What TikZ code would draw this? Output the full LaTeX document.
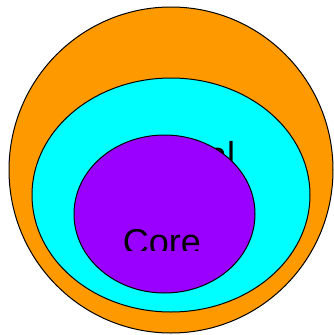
\documentclass[tikz,border=0pt]{standalone}
\usepackage{fontspec}
\setmainfont{Liberation Sans}
\usetikzlibrary{positioning}
\definecolor{layerorange}{HTML}{FF9900}
\definecolor{layercyan}{HTML}{00FFFF}
\definecolor{layerpurple}{HTML}{9900FF}
\tikzset{every picture/.style={line width=1pt}}
\tikzset{
    layer/.style={draw=black},
    layertext/.style={inner sep=0pt, anchor=base, font=\fontsize{36}{40}\selectfont}
}
\begin{document}
\begin{tikzpicture}[x=1pt, y=-1pt]
    \useasboundingbox (0,0) rectangle (334,335);

    % --- outer layer ---
    \draw[layer, fill=layerorange] (171,170) ellipse (162 and 163);

    % --- internal layer ---
    \draw[layer, fill=layercyan] (171,195) ellipse (139 and 117);
    \begin{scope}
        \clip (200,0) rectangle (334,335);
        \node[layertext] (internal) at (175,167) {Internal};
    \end{scope}

    % --- core ---
    \draw[layer, fill=layerpurple] (164.5,214) ellipse (90.5 and 79);
    \begin{scope}
        \clip (0,0) rectangle (334,250);
        \node[layertext] (core) at (162,254) {Core};
    \end{scope}

\end{tikzpicture}
\end{document}
